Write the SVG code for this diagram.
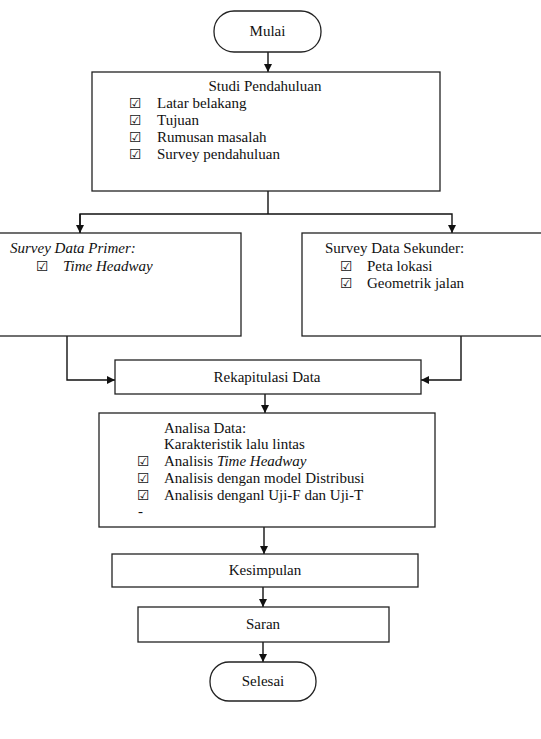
<svg xmlns="http://www.w3.org/2000/svg" width="541" height="739" viewBox="0 0 541 739">
<style>
.box{fill:#fff;stroke:#222;stroke-width:1.3}
text{font-family:'Liberation Serif','Times New Roman','DejaVu Serif',serif;font-size:15px;fill:#111}
.c{text-anchor:middle}
.i{font-style:italic}
text.cb{font-family:'DejaVu Sans',sans-serif;font-size:14px}
.ln{fill:none;stroke:#111;stroke-width:1.4}
</style>
<defs>
<marker id="ah" viewBox="0 0 10 10" refX="10" refY="5" markerWidth="8" markerHeight="8" markerUnits="userSpaceOnUse" orient="auto">
<path d="M0,0 L10,5 L0,10 z" fill="#111"/>
</marker>
</defs>
<rect width="541" height="739" fill="#fff"/>
<g id="connectors">
<line class="ln" x1="268" y1="52" x2="268" y2="72" marker-end="url(#ah)"/>
<polyline class="ln" points="268,191 268,214"/>
<polyline class="ln" points="80,233 80,214 452,214 452,233" marker-end="url(#ah)"/>
<line class="ln" x1="80" y1="214" x2="80" y2="233" marker-end="url(#ah)"/>
<polyline class="ln" points="67,336 67,380 115,380" marker-end="url(#ah)"/>
<polyline class="ln" points="461,336 461,380 421,380" marker-end="url(#ah)"/>
<line class="ln" x1="265" y1="394" x2="265" y2="413" marker-end="url(#ah)"/>
<line class="ln" x1="264" y1="527" x2="264" y2="554" marker-end="url(#ah)"/>
<line class="ln" x1="263" y1="587" x2="263" y2="607" marker-end="url(#ah)"/>
<line class="ln" x1="263" y1="642" x2="263" y2="662" marker-end="url(#ah)"/>
</g>
<g id="mulai">
<rect class="box" x="214" y="11" width="107" height="41" rx="20"/>
<text class="c" x="267.5" y="36">Mulai</text>
</g>
<g id="studi">
<rect class="box" x="92" y="72" width="348" height="119"/>
<text class="c" x="265" y="91">Studi Pendahuluan</text>
<text class="cb" x="129" y="108">☑</text><text x="157" y="108">Latar belakang</text>
<text class="cb" x="129" y="125">☑</text><text x="157" y="125">Tujuan</text>
<text class="cb" x="129" y="142">☑</text><text x="157" y="142">Rumusan masalah</text>
<text class="cb" x="129" y="159">☑</text><text x="157" y="159">Survey pendahuluan</text>
</g>
<g id="primer">
<rect class="box" x="-1" y="233" width="242" height="103"/>
<text class="i" x="10" y="253">Survey Data Primer:</text>
<text class="cb" x="36" y="271">☑</text><text class="i" x="63" y="271">Time Headway</text>
</g>
<g id="sekunder">
<rect class="box" x="302" y="233" width="240" height="103"/>
<text x="325" y="253">Survey Data Sekunder:</text>
<text class="cb" x="340" y="271">☑</text><text x="367" y="271">Peta lokasi</text>
<text class="cb" x="340" y="288">☑</text><text x="367" y="288">Geometrik jalan</text>
</g>
<g id="rekap">
<rect class="box" x="115" y="360" width="306" height="34"/>
<text class="c" x="267" y="382">Rekapitulasi Data</text>
</g>
<g id="analisa">
<rect class="box" x="99" y="413" width="336" height="114"/>
<text x="164" y="433">Analisa Data:</text>
<text x="164" y="449">Karakteristik lalu lintas</text>
<text class="cb" x="137" y="466">☑</text><text x="164" y="466">Analisis <tspan class="i">Time Headway</tspan></text>
<text class="cb" x="137" y="483">☑</text><text x="164" y="483">Analisis dengan model Distribusi</text>
<text class="cb" x="137" y="500">☑</text><text x="164" y="500">Analisis denganl Uji-F dan Uji-T</text>
<text x="138" y="516">-</text>
</g>
<g id="kesimpulan">
<rect class="box" x="112" y="554" width="306" height="33"/>
<text class="c" x="265" y="575">Kesimpulan</text>
</g>
<g id="saran">
<rect class="box" x="138" y="607" width="251" height="35"/>
<text class="c" x="263" y="629">Saran</text>
</g>
<g id="selesai">
<rect class="box" x="210" y="662" width="106" height="39" rx="19"/>
<text class="c" x="263" y="686">Selesai</text>
</g>
</svg>
